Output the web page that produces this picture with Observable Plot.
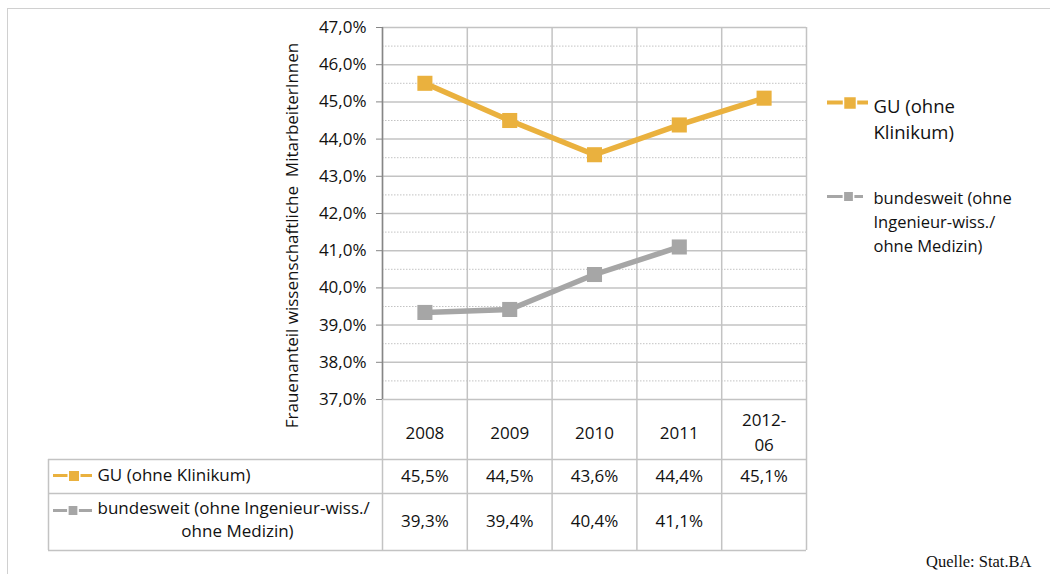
<!DOCTYPE html>
<html><head><meta charset="utf-8">
<script src="https://cdn.jsdelivr.net/npm/d3@7"></script>
<script src="https://cdn.jsdelivr.net/npm/@observablehq/plot@0.6"></script>
<style>
html,body{margin:0;padding:0;background:#fff;}
#wrap{position:relative;width:1050px;height:574px;overflow:hidden;}
#frame{position:absolute;left:7px;top:8px;width:1100px;height:600px;border-top:1.5px solid #d0d0d0;border-left:1.5px solid #d0d0d0;pointer-events:none;}
#wrap svg{position:absolute;left:0;top:0;}
</style></head><body><div id="wrap"><div id="frame"></div></div>
<script>
// ---- data ----
const categories = ["2008", "2009", "2010", "2011", "2012-\n06"];
const guValues = [45.5, 44.5, 43.58, 44.38, 45.1];
const bundValues = [39.34, 39.42, 40.36, 41.1];
const yTicks = [37, 38, 39, 40, 41, 42, 43, 44, 45, 46, 47];
const yMinor = [37.5, 38.5, 39.5, 40.5, 41.5, 42.5, 43.5, 44.5, 45.5, 46.5];
const seriesNames = ["GU (ohne Klinikum)", "bundesweit (ohne Ingenieur-wiss./ ohne Medizin)"];
const legendLabels = ["GU (ohne\nKlinikum)", "bundesweit (ohne\nIngenieur-wiss./\nohne Medizin)"];
const yTitle = "Frauenanteil wissenschaftliche  MitarbeiterInnen";
const caption = "Quelle: Stat.BA";

// ---- layout ----
const W = 1050, H = 574;
const mL = 382, mR = 244, mT = 27, mB = 175;
const orange = "#EAB13E", gray = "#A6A6A6", grid = "#c3c3c3";
const font = "Open Sans";
const step = (W - mL - mR) / categories.length;
const pxUnit = (H - mT - mB) / (yTicks[yTicks.length - 1] - yTicks[0]);
const px = p => -0.5 + (p - mL) / step;          // pixel -> x data unit (furniture only)
const py = p => yTicks[0] - (p - (H - mB)) / pxUnit; // pixel -> y data unit (furniture only)

const gu = guValues.map((v, i) => ({i, v}));
const bund = bundValues.map((v, i) => ({i, v}));
const fmt = v => v.toFixed(1).replace(".", ",") + "%";
const bounds = d3.range(-0.5, categories.length, 1);
const T = {lineAnchor: "middle", fill: "#111"};

const chart = Plot.plot({
  width: W, height: H,
  marginLeft: mL, marginRight: mR, marginTop: mT, marginBottom: mB,
  style: {fontFamily: font, color: "#111", background: "transparent"},
  x: {type: "linear", domain: [-0.5, categories.length - 0.5], axis: null},
  y: {type: "linear", domain: [yTicks[0], yTicks[yTicks.length - 1]], axis: null},
  marks: [
    // minor dotted grid
    Plot.ruleY(yMinor, {x1: -0.5, x2: categories.length - 0.5, stroke: grid, strokeWidth: 1, strokeDasharray: "1.5,1.5"}),
    // major grid
    Plot.ruleY(yTicks, {x1: -0.5, x2: categories.length - 0.5, stroke: grid, strokeWidth: 1.5}),
    // vertical column lines (chart + table)
    Plot.ruleX(bounds, {y1: yTicks[yTicks.length - 1], y2: py(550), stroke: grid, strokeWidth: 1.5}),
    // table horizontal lines
    Plot.ruleY([py(459), py(493), py(550)], {x1: px(48), x2: categories.length - 0.5, stroke: grid, strokeWidth: 1.5}),
    Plot.ruleX([px(48)], {y1: py(459), y2: py(550), stroke: grid, strokeWidth: 1.5}),
    // y axis
    Plot.ruleX([-0.5], {y1: yTicks[0], y2: yTicks[yTicks.length - 1], stroke: "#868686", strokeWidth: 1.5}),
    Plot.axisY(yTicks, {anchor: "left", tickSize: 6, tickPadding: 10, tickFormat: d => d.toFixed(1).replace(".", ",") + "%", fontSize: 17, stroke: "#868686", fill: "#111", label: null}),
    Plot.text([yTitle], {...T, frameAnchor: "left", textAnchor: "middle", rotate: -90, dx: -90, dy: 22, fontSize: 17}),
    // series
    Plot.line(gu, {x: "i", y: "v", stroke: orange, strokeWidth: 5.5}),
    Plot.dot(gu, {x: "i", y: "v", symbol: "square", r: 8.5, fill: orange, stroke: null}),
    Plot.line(bund, {x: "i", y: "v", stroke: gray, strokeWidth: 5.5}),
    Plot.dot(bund, {x: "i", y: "v", symbol: "square", r: 8.5, fill: gray, stroke: null}),
    // table header
    Plot.text(categories, {...T, x: (d, i) => i, text: d => d, frameAnchor: "bottom", dy: 31, fontSize: 17, lineHeight: 1.5}),
    // table values
    Plot.text(gu, {...T, x: "i", text: d => fmt(d.v), frameAnchor: "bottom", dy: 77, fontSize: 17}),
    Plot.text(bund, {...T, x: "i", text: d => fmt(d.v), frameAnchor: "bottom", dy: 122, fontSize: 17}),
    // table row labels
    Plot.text([seriesNames[0]], {...T, frameAnchor: "bottom-left", dx: -285, dy: 76, textAnchor: "start", fontSize: 17}),
    Plot.text(["bundesweit (ohne Ingenieur-wiss./"], {...T, frameAnchor: "bottom-left", dx: -285, dy: 109, textAnchor: "start", fontSize: 17}),
    Plot.text(["ohne Medizin)"], {...T, frameAnchor: "bottom-left", dx: -145, dy: 132, textAnchor: "middle", fontSize: 17}),
    // table icons
    Plot.ruleY([py(475)], {x1: px(53), x2: px(92), stroke: orange, strokeWidth: 3}),
    Plot.dot([0], {x: px(73.5), y: py(475.5), symbol: "square", r: 6.5, fill: orange, stroke: "white", strokeWidth: 1.5}),
    Plot.ruleY([py(510)], {x1: px(53), x2: px(92), stroke: gray, strokeWidth: 3}),
    Plot.dot([0], {x: px(72.5), y: py(510), symbol: "square", r: 5.8, fill: gray, stroke: "white", strokeWidth: 1.5}),
    // right legend
    Plot.ruleY([py(102)], {x1: px(827), x2: px(868), stroke: orange, strokeWidth: 4}),
    Plot.dot([0], {x: px(849.5), y: py(102.5), symbol: "square", r: 7.3, fill: orange, stroke: "white", strokeWidth: 1.5}),
    Plot.text([legendLabels[0]], {...T, frameAnchor: "top-right", dx: 67, dy: 90, textAnchor: "start", fontSize: 18.5, lineHeight: 1.42}),
    Plot.ruleY([py(196)], {x1: px(827), x2: px(863), stroke: gray, strokeWidth: 3}),
    Plot.dot([0], {x: px(848), y: py(196), symbol: "square", r: 5.8, fill: gray, stroke: "white", strokeWidth: 1.5}),
    Plot.text([legendLabels[1]], {...T, frameAnchor: "top-right", dx: 67, dy: 193, textAnchor: "start", fontSize: 16.5, lineHeight: 1.45}),
    // caption
    Plot.text([caption], {...T, frameAnchor: "bottom-right", dx: 225, dy: 162, textAnchor: "end", fontSize: 16.5, fontFamily: "Liberation Serif"})
  ]
});
document.getElementById("wrap").appendChild(chart);
</script>
</body></html>
